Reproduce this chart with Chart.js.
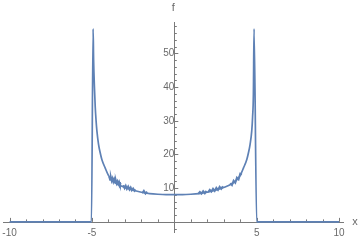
<!DOCTYPE html>
<html>
<head>
<meta charset="utf-8">
<script src="https://cdn.jsdelivr.net/npm/chart.js@4/dist/chart.umd.min.js"></script>
<style>
    html, body { margin: 0; padding: 0; background: #fff; }
    #wrap { width: 360px; height: 241px; }
</style>
</head>
<body>
<div id="wrap"><canvas id="chart"></canvas></div>
<script>
    // smooth curve f(x)
    const curveX = [-10, -5.03, -4.93, -4.9, -4.85, -4.8, -4.75, -4.7, -4.6, -4.5, -4.4, -4.2, -4.0, -3.8, -3.5, -3.0, -2.5, -2.0, -1.5, -1.0, -0.5, 0,
        0.5, 1.0, 1.5, 2.0, 2.5, 3.0, 3.5, 3.8, 4.0, 4.2, 4.4, 4.5, 4.6, 4.7, 4.75, 4.8, 4.84, 5.0, 10];
    const curveY = [0, 0, 57.3, 48, 40, 34, 30, 27, 23, 20.5, 18.5, 16, 13.8, 12.5, 11.3, 10.2, 9.4, 8.8, 8.4, 8.2, 8.1, 8.1,
        8.1, 8.2, 8.4, 8.8, 9.4, 10.2, 11.3, 12.5, 13.8, 16, 18.5, 20.5, 23, 27, 31, 38, 57.3, 0, 0];

    // noisy sample pieces riding on the curve (null = gap)
    const noiseX = [-3.95, -3.9, -3.85, -3.8, -3.75, -3.7, -3.65, -3.6, -3.55, -3.5, -3.45, -3.4, -3.35, -3.3, -3.25, null,
        -3.1, -3.02, -2.95, -2.88, -2.8, -2.72, -2.65, -2.58, -2.5, -2.42, -2.35, null,
        -1.95, -1.85, -1.75, -1.65, null,
        1.45, 1.55, 1.65, 1.75, 1.85, 1.95, null,
        2.05, 2.15, 2.25, 2.35, 2.45, 2.55, 2.65, 2.75, 2.85, 2.95, null,
        3.4, 3.5, 3.6, 3.7, 3.8, 3.9, 4.0, 4.1];
    const noiseY = [13.4, 12.5, 13.2, 12.2, 12.9, 11.9, 12.6, 11.7, 12.3, 11.4, 12.0, 11.2, 11.8, 11.0, 11.5, null,
        10.9, 10.0, 10.7, 9.8, 10.5, 9.6, 10.2, 9.4, 9.9, 9.2, 9.6, null,
        8.5, 9.2, 8.4, 9.0, null,
        8.3, 8.9, 8.4, 9.1, 8.5, 9.2, null,
        8.8, 9.5, 9.0, 9.8, 9.2, 10.1, 9.5, 10.4, 9.8, 10.6, null,
        11.5, 10.9, 12.2, 11.6, 13.1, 12.6, 14.3, 14.0];

    const xTicks = [-10, -5, 5, 10];
    const yTicks = [10, 20, 30, 40, 50];
    const xMinorTicks = [-9, -8, -7, -6, -4, -3, -2, -1, 1, 2, 3, 4, 6, 7, 8, 9];
    const yMinorTicks = [-2, 2, 4, 6, 8, 12, 14, 16, 18, 22, 24, 26, 28, 32, 34, 36, 38, 42, 44, 46, 48, 52, 54, 56, 58];

    const lineColor = '#5e81b5',
        axisColor = '#7a7a7a',
        labelColor = '#6a6a6a',
        fontFamily = '"Liberation Sans", Arial, sans-serif';

    const toPoints = (xs, ys) => xs.map((x, i) => (x === null ? { x: NaN, y: null } : { x: x, y: ys[i] }));

    const noPadding = (scale) => {
        scale.paddingLeft = 0;
        scale.paddingRight = 0;
        scale.paddingTop = 0;
        scale.paddingBottom = 0;
    };

    // Mathematica-like axes: lines through the origin, ticks pointing inward
    const axesPlugin = {
        id: 'axes',
        beforeDatasetsDraw(chart) {
            const { ctx, chartArea, scales } = chart;
            const x0 = scales.x.getPixelForValue(0),
                y0 = scales.y.getPixelForValue(0);
            ctx.save();
            ctx.strokeStyle = axisColor;
            ctx.lineWidth = 1;
            ctx.beginPath();
            ctx.moveTo(chartArea.left, Math.round(y0) + 0.5);
            ctx.lineTo(chartArea.right, Math.round(y0) + 0.5);
            ctx.moveTo(Math.round(x0) + 0.5, chartArea.top);
            ctx.lineTo(Math.round(x0) + 0.5, chartArea.bottom);
            xTicks.forEach(v => {
                const px = Math.round(scales.x.getPixelForValue(v)) + 0.5;
                ctx.moveTo(px, y0);
                ctx.lineTo(px, y0 - 4);
            });
            xMinorTicks.forEach(v => {
                const px = Math.round(scales.x.getPixelForValue(v)) + 0.5;
                ctx.moveTo(px, y0);
                ctx.lineTo(px, y0 - 2.5);
            });
            yTicks.forEach(v => {
                const py = Math.round(scales.y.getPixelForValue(v)) + 0.5;
                ctx.moveTo(x0, py);
                ctx.lineTo(x0 + 4, py);
            });
            yMinorTicks.forEach(v => {
                const py = Math.round(scales.y.getPixelForValue(v)) + 0.5;
                ctx.moveTo(x0, py);
                ctx.lineTo(x0 + 2.5, py);
            });
            ctx.stroke();
            ctx.restore();
        },
        afterDraw(chart) {
            const { ctx, chartArea, scales } = chart;
            const x0 = scales.x.getPixelForValue(0),
                y0 = scales.y.getPixelForValue(0);
            ctx.save();
            ctx.fillStyle = labelColor;
            ctx.font = '11px ' + fontFamily;
            ctx.textAlign = 'center';
            ctx.textBaseline = 'middle';
            ctx.fillText('f', x0 - 1, 8);
            ctx.fillText('x', chartArea.right + 11, y0);
            ctx.restore();
        }
    };

    const tickFont = { family: fontFamily, size: 10 };

    new Chart(document.getElementById('chart'), {
        type: 'line',
        data: {
            datasets: [{
                data: toPoints(curveX, curveY),
                borderColor: lineColor,
                borderWidth: 1.7,
                pointRadius: 0,
                cubicInterpolationMode: 'monotone',
                fill: false
            }, {
                data: toPoints(noiseX, noiseY),
                borderColor: lineColor,
                borderWidth: 2,
                pointRadius: 0,
                tension: 0,
                spanGaps: false,
                fill: false
            }]
        },
        options: {
            responsive: true,
            maintainAspectRatio: false,
            animation: false,
            layout: { padding: { left: 3, right: 16, top: 22, bottom: 8 } },
            plugins: {
                legend: { display: false },
                tooltip: { enabled: false }
            },
            scales: {
                x: {
                    type: 'linear',
                    min: -10.4,
                    max: 10.3,
                    position: { y: 0 },
                    grid: { display: false, tickLength: 2 },
                    border: { display: false },
                    ticks: { font: tickFont, color: labelColor, padding: 3, maxRotation: 0, autoSkip: false },
                    afterBuildTicks: (scale) => { scale.ticks = xTicks.map(v => ({ value: v })); },
                    afterFit: noPadding
                },
                y: {
                    type: 'linear',
                    min: -3.3,
                    max: 59.3,
                    position: { x: 0 },
                    grid: { display: false, tickLength: 2 },
                    border: { display: false },
                    ticks: { font: tickFont, color: labelColor, padding: 3, autoSkip: false },
                    afterBuildTicks: (scale) => { scale.ticks = yTicks.map(v => ({ value: v })); },
                    afterFit: noPadding
                }
            }
        },
        plugins: [axesPlugin]
    });
</script>
</body>
</html>
